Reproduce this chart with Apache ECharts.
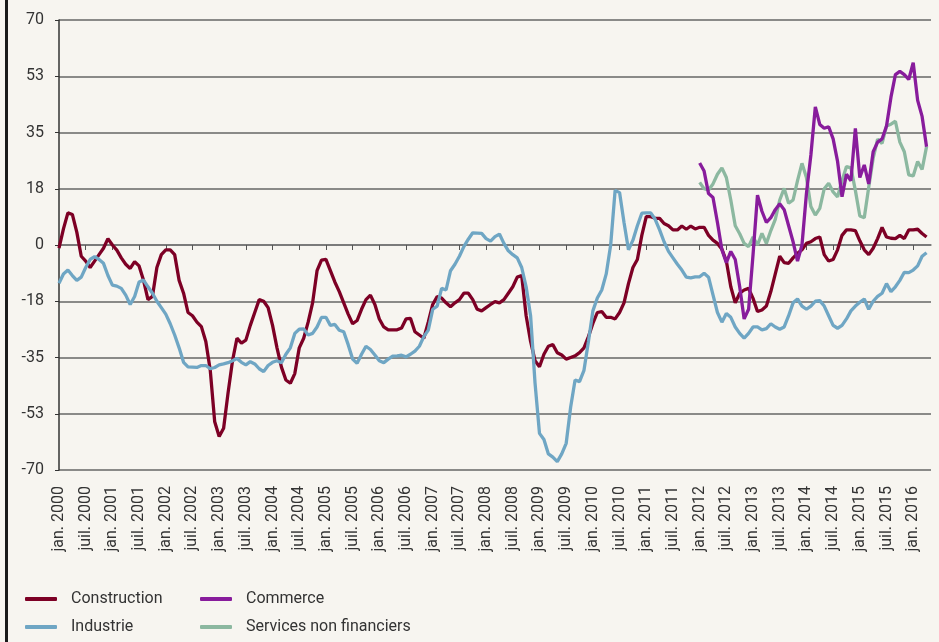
<!DOCTYPE html>
<html>
<head>
<meta charset="utf-8">
<title>Construction, Industrie, Commerce, Services</title>
<script src="https://cdn.jsdelivr.net/npm/echarts@6/dist/echarts.min.js"></script>
<style>
  html, body { margin: 0; padding: 0; background: #f7f5f0; }
  #chart { width: 939px; height: 642px; }
</style>
</head>
<body>
<div id="chart"></div>
<script>
  // mois : jan. 2000 -> mai 2016
  var monthNames = ['jan.', 'févr.', 'mars', 'avr.', 'mai', 'juin', 'juil.', 'août', 'sept.', 'oct.', 'nov.', 'déc.'];
  var months = [];
  for (var y = 2000; y <= 2016; y++) {
    for (var m = 0; m < 12; m++) {
      if (y === 2016 && m > 4) break;
      months.push(monthNames[m] + ' ' + y);
    }
  }

  var yTicks = [-70, -52.5, -35, -17.5, 0, 17.5, 35, 52.5, 70];

  var construction = [
    -1, 5, 10, 9.5, 4, -3.5, -5, -7, -5, -3, -1, 2, 0, -1.6, -4, -6, -7.3, -5.2, -6.5, -11,
    -17, -16, -7, -3, -1.5, -1.5, -3, -11, -15, -21, -22, -24, -25.4, -30, -39, -55, -59.6, -57, -46, -36,
    -29, -30.5, -29.6, -25, -21, -17, -17.5, -19.5, -25, -32, -38, -42, -43, -40, -32, -29, -24, -18, -8, -4.7,
    -4.5, -8, -11.5, -14.5, -18, -21.5, -24.5, -23.5, -20, -17, -15.6, -18.5, -23, -25.5, -26.4, -26.4, -26.4, -25.8, -23, -22.8,
    -27, -28, -29, -24, -18.5, -16, -16.5, -18, -19.2, -18, -17, -15, -15, -17, -20, -20.5, -19.5, -18.5, -17.6, -18,
    -17, -15, -13, -10, -9.5, -22, -30, -36, -37.9, -34, -31.5, -31, -33.5, -34.2, -35.5, -35, -34.5, -33.5, -32, -28.5,
    -24.4, -21, -20.7, -22.5, -22.5, -23, -21, -18, -12, -7, -4.5, 3, 8.8, 8.8, 8.3, 8.3, 6.7, 6, 4.7, 4.7,
    5.9, 4.9, 5.9, 5, 5.5, 5.5, 3, 1.5, 0.5, -1.3, -5, -13, -18, -15, -14, -13.5, -16.6, -20.7, -20.2, -19,
    -14.5, -9, -3.5, -5.5, -5.7, -4, -2.6, -1.5, 0.5, 1, 2, 2.5, -3, -5, -4.5, -1.5, 3, 4.7, 4.7, 4.5,
    1.3, -1.5, -3, -1, 2, 5.5, 2.5, 2.1, 2, 3, 2, 4.7, 4.7, 4.9, 3.6, 2.5
  ];

  var industrie = [
    -11.9, -9, -7.8, -9.5, -11, -10, -7, -4.5, -3.6, -4.5, -5.7, -9.5, -12.5, -12.8, -13.5, -15.6, -18.5, -16, -11.5, -10.9,
    -13, -15, -17.5, -19.5, -21.5, -24.5, -28, -32, -36.5, -37.9, -38, -38.1, -37.5, -37.5, -38.5, -38.1, -37.3, -37, -36.6, -36,
    -35.3, -36.5, -37.3, -36.3, -37, -38.5, -39.4, -37.5, -36.5, -36, -36.6, -34, -32, -27.5, -26.2, -26.1, -28, -27.5, -25.5, -22.5,
    -22.5, -25, -24.7, -26.5, -27, -31, -35.5, -36.8, -34, -31.5, -32.5, -34.2, -36, -36.6, -35.5, -34.6, -34.5, -34.3, -34.8, -34,
    -33, -31.5, -28.5, -26.5, -20, -19, -13.5, -14, -8, -6, -3.5, -0.5, 1.8, 3.8, 3.7, 3.6, 2, 1.2, 2.6, 3.4,
    0.5, -1.8, -3, -4, -7, -13, -22, -43, -58.6, -60.5, -65, -66, -67.4, -65, -61.7, -50.5, -42, -42.5, -39, -30,
    -20.5, -16.5, -14, -9, 0, 17, 16.3, 7, -1.5, 1.5, 6, 9.9, 10, 10, 8, 4.7, 1, -2, -4, -6,
    -7.8, -10, -10.2, -9.9, -9.9, -8.8, -10, -15.5, -21, -24, -21.3, -22.5, -25.5, -27.5, -29, -27.5, -25.5, -25.5, -26.4, -26,
    -24.5, -25.5, -26.2, -25.5, -22, -18, -16.8, -19, -20, -19, -17.5, -17.3, -19, -22, -25, -25.9, -25, -23, -20.5, -19,
    -17.8, -16.8, -20, -17.5, -16, -15, -12, -14.5, -13, -11, -8.5, -8.6, -7.8, -6.5, -3.5, -2.4
  ];

  // à partir de jan. 2012
  var commerce2012 = [
    25.5, 23, 16, 14.8, 7, -1.5, -5.5, -2, -4.5, -13, -23, -20, -3, 15.5, 10.5, 7, 8.5, 11, 12.8, 11,
    6, 1, -5, 0, 16, 28, 43, 37.5, 36.3, 36.8, 33, 26, 15, 22, 20, 36.3, 21, 24.9, 19, 29,
    32, 33, 37, 46, 53, 54, 53, 51.5, 56.7, 45, 40, 30.6
  ];

  var services2012 = [
    19.5, 17.5, 17.1, 19, 22, 24, 21, 14, 6, 3.5, 0.5, -0.5, 2.5, 0, 3.6, 0.5, 4.5, 8, 14, 17.6,
    13, 14, 20, 25.4, 21, 12, 9.3, 11.4, 17.5, 19.2, 16.5, 15, 20, 24.4, 24, 17, 9, 8.5, 18, 27,
    32.9, 31.6, 37, 37.6, 38.5, 32, 29, 21.8, 21.5, 26, 23.5, 30.6
  ];

  var startIdx = months.indexOf('jan. 2012');
  var commerce = new Array(startIdx).fill(null).concat(commerce2012);
  var services = new Array(startIdx).fill(null).concat(services2012);

  var labelFont = 'Roboto, "Liberation Sans", sans-serif';

  function legendItem(name, left, top) {
    return {
      left: left,
      top: top,
      padding: 0,
      itemWidth: 32,
      itemHeight: 4,
      icon: 'roundRect',
      data: [name],
      textStyle: { fontSize: 16, color: '#333', padding: [0, 0, 0, 9] }
    };
  }

  var chart = echarts.init(document.getElementById('chart'));
  chart.setOption({
    backgroundColor: '#f7f5f0',
    animation: false,
    textStyle: { fontFamily: labelFont },
    graphic: [
      { type: 'rect', shape: { x: 5, y: 0, width: 3, height: 642 }, style: { fill: '#1a1a1a' } }
    ],
    grid: { left: 59, right: 8, top: 20, bottom: 172 },
    legend: [
      legendItem('Construction', 25, 591),
      legendItem('Commerce', 200, 591),
      legendItem('Industrie', 25, 619),
      legendItem('Services non financiers', 200, 619)
    ],
    xAxis: {
      type: 'category',
      boundaryGap: false,
      data: months,
      axisLine: { lineStyle: { color: '#777', width: 1.5 } },
      axisTick: { interval: 5, length: 5, lineStyle: { color: '#555' } },
      axisLabel: {
        interval: 5,
        rotate: 90,
        margin: 16,
        fontSize: 16,
        color: '#333'
      },
      splitLine: { show: false }
    },
    yAxis: {
      type: 'value',
      min: yTicks[0],
      max: yTicks[yTicks.length - 1],
      interval: 17.5,
      axisLine: { show: true, lineStyle: { color: '#333', width: 1.5 } },
      axisTick: { show: true, length: 4, lineStyle: { color: '#333' } },
      axisLabel: {
        margin: 15,
        fontSize: 16,
        color: '#333',
        formatter: function (v) {
          return (v < 0 ? '-' : '') + Math.round(Math.abs(v));
        }
      },
      splitLine: { lineStyle: { color: '#666', width: 1.5 } }
    },
    series: [
      {
        name: 'Construction',
        type: 'line',
        data: construction,
        symbol: 'none',
        color: '#7d0025',
        lineStyle: { width: 3.3 }
      },
      {
        name: 'Industrie',
        type: 'line',
        data: industrie,
        symbol: 'none',
        color: '#6fa6c4',
        lineStyle: { width: 3.3 }
      },
      {
        name: 'Services non financiers',
        type: 'line',
        data: services,
        symbol: 'none',
        color: '#8cb8a0',
        lineStyle: { width: 3.3 }
      },
      {
        name: 'Commerce',
        type: 'line',
        data: commerce,
        symbol: 'none',
        color: '#881c9c',
        lineStyle: { width: 3.3 }
      }
    ]
  });
</script>
</body>
</html>
